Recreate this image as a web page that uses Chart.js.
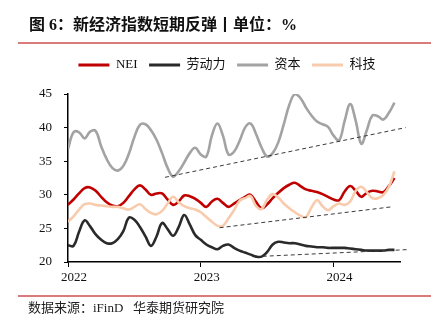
<!DOCTYPE html>
<html>
<head>
<meta charset="utf-8">
<script src="https://cdn.jsdelivr.net/npm/chart.js@4.4.1/dist/chart.umd.min.js"></script>
<style>
  html, body { margin: 0; padding: 0; background: #fff; }
  #wrap { position: relative; width: 436px; height: 322px; overflow: hidden; }
  #chart { position: absolute; left: 0; top: 0; }
  .title { position: absolute; left: 29px; top: 11px; line-height: 22px; font: bold 16px "Liberation Serif", "Noto Sans CJK SC", serif; color: #111; white-space: nowrap; }
  .rule { position: absolute; left: 18px; width: 413px; height: 2px; background: #d97b78; }
  .source { position: absolute; left: 28px; top: 297px; line-height: 16px; font: 13px "Liberation Serif", "Noto Sans CJK SC", serif; color: #222; white-space: nowrap; }
</style>
</head>
<body>
<div id="wrap">
  <canvas id="chart" width="436" height="322"></canvas>
  <div class="title">图 6：新经济指数短期反弹丨单位：%</div>
  <div class="rule" style="top:41.5px"></div>
  <div class="rule" style="top:295px"></div>
  <div class="source">数据来源：iFinD&nbsp;&nbsp;&nbsp;华泰期货研究院</div>
</div>
<script>
// Half-monthly observation dates
const dates = [
  '2022-01-01','2022-01-16','2022-02-01','2022-02-16','2022-03-01','2022-03-16','2022-04-01','2022-04-16','2022-05-01','2022-05-16',
  '2022-06-01','2022-06-16','2022-07-01','2022-07-16','2022-08-01','2022-08-16','2022-09-01','2022-09-16','2022-10-01','2022-10-16',
  '2022-11-01','2022-11-16','2022-12-01','2022-12-16','2023-01-01','2023-01-16','2023-02-01','2023-02-16','2023-03-01','2023-03-16',
  '2023-04-01','2023-04-16','2023-05-01','2023-05-16','2023-06-01','2023-06-16','2023-07-01','2023-07-16','2023-08-01','2023-08-16',
  '2023-09-01','2023-09-16','2023-10-01','2023-10-16','2023-11-01','2023-11-16','2023-12-01','2023-12-16','2024-01-01','2024-01-16',
  '2024-02-01','2024-02-16','2024-03-01','2024-03-16','2024-04-01','2024-04-16','2024-05-01','2024-05-16','2024-06-01','2024-06-16'
];

const neiValues = [
  28.5,29.3,30.2,31.0,31.1,30.6,29.7,28.9,28.4,28.3,
  28.8,29.8,30.8,31.4,30.8,30.0,30.2,30.2,29.3,28.5,
  29.0,29.9,29.8,29.4,28.8,28.2,29.0,29.4,28.8,28.2,
  28.7,29.2,29.7,30.0,28.9,28.0,28.6,29.5,30.3,31.0,
  31.5,31.8,31.3,30.8,30.6,30.4,30.1,29.7,29.3,29.2,
  30.5,31.3,30.6,29.7,30.3,30.6,30.5,30.4,31.3,32.5
];
const laborValues = [
  22.5,22.4,24.5,26.2,25.3,24.1,23.3,22.8,22.8,23.4,
  24.6,26.6,26.3,25.2,23.8,22.4,23.8,25.8,24.9,23.9,
  25.2,27.0,25.6,24.0,23.3,22.6,22.2,21.9,22.4,22.6,
  22.1,21.7,21.4,21.1,20.8,20.8,21.5,22.6,23.0,22.9,
  22.8,22.8,22.6,22.4,22.3,22.2,22.2,22.1,22.1,22.1,
  22.1,22.0,21.9,21.8,21.7,21.7,21.7,21.7,21.8,21.8
];
const capitalValues = [
  36.8,39.3,39.3,38.4,39.4,39.5,37.2,35.3,34.0,33.6,
  34.3,36.1,38.6,40.4,40.5,39.6,38.2,36.2,34.0,32.7,
  33.5,34.8,36.2,37.0,36.0,35.7,38.8,40.6,38.8,36.0,
  36.4,38.0,40.0,40.6,39.0,37.0,35.7,36.2,37.8,40.5,
  43.4,45.0,44.4,43.0,41.8,40.9,40.5,40.1,38.8,38.1,
  41.0,43.5,41.0,37.6,39.6,41.8,41.7,41.2,42.2,43.7
];
const techValues = [
  26.0,26.8,27.8,28.6,28.7,28.5,28.4,28.3,28.2,28.2,
  28.0,27.8,28.2,28.6,27.9,27.3,27.1,27.6,28.7,29.7,
  28.9,28.3,28.0,27.8,27.4,26.7,26.0,25.4,25.4,26.5,
  27.7,29.1,29.5,29.8,28.3,27.9,29.3,30.1,29.6,28.7,
  28.0,27.4,26.9,26.7,28.1,29.2,28.3,27.7,28.3,28.7,
  28.5,29.0,30.6,31.2,30.4,29.5,29.5,30.0,31.2,33.5
];

// Support (trend) lines: start/end date and value
const capitalTrendDates = ['2022-09-24', '2024-07-16'];
const capitalTrendValues = [32.6, 40.0];
const techTrendDates = ['2023-02-22', '2024-06-07'];
const techTrendValues = [25.1, 28.2];
const laborTrendDates = ['2023-06-19', '2024-07-25'];
const laborTrendValues = [20.85, 21.85];

const yearTickDates = ['2022-01-01', '2023-01-01', '2024-01-01'];
const yearTickLabels = ['2022', '2023', '2024'];
const axisEndDate = '2024-07-01';

// Months elapsed since Jan 2022
function monthIndex(d) {
  const [y, m, day] = d.split('-').map(Number);
  return (y - 2022) * 12 + (m - 1) + (day - 1) / 30;
}
function toPoints(ds, vs) {
  return ds.map((d, i) => ({ x: monthIndex(d), y: vs[i] }));
}

const serif = '"Liberation Serif", "Noto Sans CJK SC", serif';

function seriesLine(label, values, color, order) {
  return {
    label, data: toPoints(dates, values),
    borderColor: color, backgroundColor: color,
    borderWidth: 2.6, pointRadius: 0, tension: 0.4, order
  };
}
function trendLine(ds, vs) {
  return {
    label: '', data: toPoints(ds, vs),
    borderColor: '#3a3a3a', borderWidth: 1, borderDash: [4, 3],
    pointRadius: 0, tension: 0, clip: false, order: 0
  };
}

// Centre the legend over the plot rather than over the whole canvas
const legendShift = {
  id: 'legendShift',
  afterLayout(chart) {
    if (chart.legend) { chart.legend.left += 13; chart.legend.right += 13; }
  }
};

new Chart(document.getElementById('chart'), {
  type: 'line',
  plugins: [legendShift],
  data: {
    datasets: [
      seriesLine('NEI', neiValues, '#c00000', 4),
      seriesLine('劳动力', laborValues, '#2a2a2a', 3),
      seriesLine('资本', capitalValues, '#a3a3a3', 2),
      seriesLine('科技', techValues, '#f8cbad', 1),
      trendLine(capitalTrendDates, capitalTrendValues),
      trendLine(techTrendDates, techTrendValues),
      trendLine(laborTrendDates, laborTrendValues)
    ]
  },
  options: {
    responsive: false,
    devicePixelRatio: 1,
    animation: false,
    layout: { padding: { left: 28, right: 36, top: 47, bottom: 38 } },
    plugins: {
      tooltip: { enabled: false },
      legend: {
        position: 'top',
        labels: {
          boxWidth: 31, boxHeight: 3, padding: 11.5,
          color: '#111',
          font: { family: serif, size: 13 },
          filter: (item) => item.datasetIndex < 4,
          sort: (a, b) => a.datasetIndex - b.datasetIndex,
          generateLabels(chart) {
            return Chart.defaults.plugins.legend.labels.generateLabels(chart).map(it => {
              it.fillStyle = it.strokeStyle;
              it.lineWidth = 0;
              return it;
            });
          }
        }
      }
    },
    scales: {
      x: {
        type: 'linear', position: 'bottom',
        min: 0, max: monthIndex(axisEndDate),
        afterBuildTicks(s) { s.ticks = yearTickDates.map(d => ({ value: monthIndex(d) })); },
        afterFit(s) { s.height = 22; },
        ticks: {
          autoSkip: false, maxRotation: 0, labelOffset: 6, padding: 3,
          color: '#111', font: { family: serif, size: 13 },
          callback: (v) => yearTickLabels[yearTickDates.findIndex(d => monthIndex(d) === v)]
        },
        grid: { display: true, drawOnChartArea: false, drawTicks: true, tickLength: 5, color: '#000', lineWidth: 1 },
        border: { display: true, color: '#000', width: 1.5 }
      },
      y: {
        type: 'linear', position: 'left',
        min: 20, max: 45,
        afterFit(s) { s.width = 40; },
        ticks: { stepSize: 5, padding: 12, color: '#111', font: { family: serif, size: 13 } },
        grid: { display: true, drawOnChartArea: false, drawTicks: true, tickLength: 4, color: '#000', lineWidth: 1 },
        border: { display: true, color: '#000', width: 1.5 }
      },
      gap: {
        type: 'linear', position: 'top', display: true,
        afterFit(s) { s.height = 12.5; },
        ticks: { display: false },
        grid: { display: false, drawTicks: false },
        border: { display: false }
      }
    }
  }
});
</script>
</body>
</html>
